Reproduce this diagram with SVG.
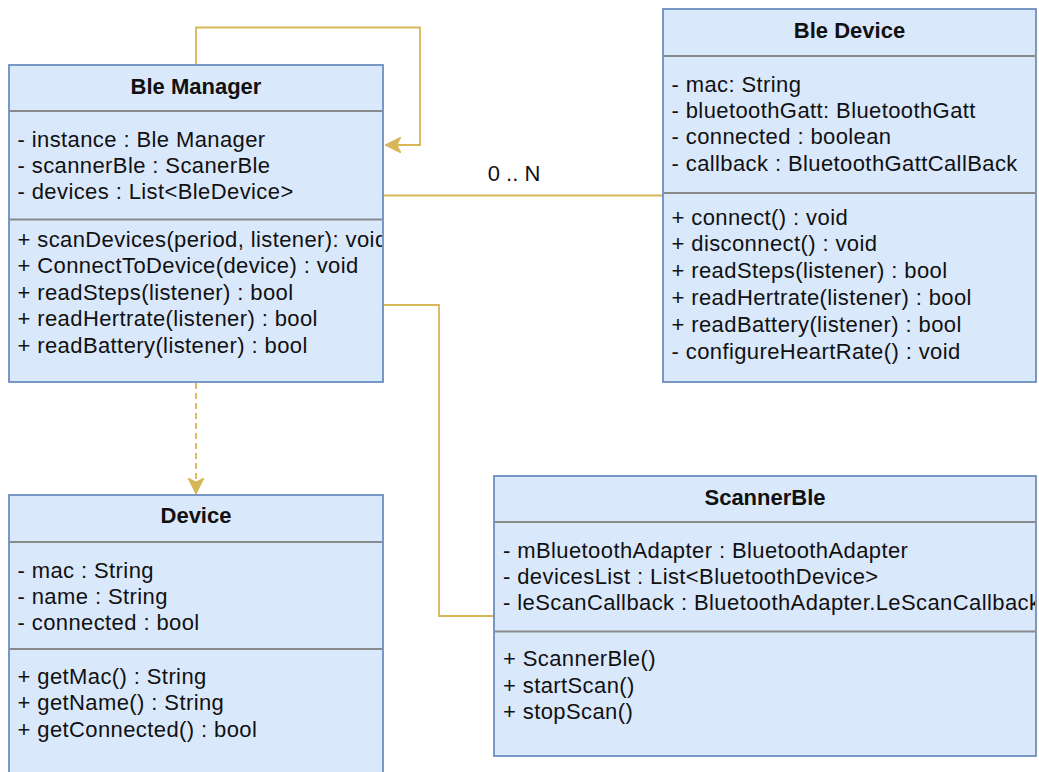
<svg xmlns="http://www.w3.org/2000/svg" width="1039" height="772" viewBox="0 0 1039 772">
  <style>
    .box { fill: #dae8fc; stroke: #6c8ebf; stroke-width: 1.8; }
    .sep { stroke: #8a8a8a; stroke-width: 1.8; fill: none; }
    .title { font-family: "Liberation Sans", Arial, sans-serif; font-size: 22px; font-weight: bold; fill: #111; text-anchor: middle; }
    .member { font-family: "Liberation Sans", Arial, sans-serif; font-size: 22px; letter-spacing: 0.4px; fill: #111; }
    .edge { fill: none; stroke: #d6b656; stroke-width: 1.8; }
    .dashed { stroke-dasharray: 6 4; }
    .label { font-family: "Liberation Sans", Arial, sans-serif; font-size: 22px; fill: #111; text-anchor: middle; }
  </style>
  <defs>
    <marker id="classic" viewBox="0 0 16 16" refX="15" refY="8" markerWidth="16" markerHeight="16" markerUnits="userSpaceOnUse" orient="auto">
      <path d="M0,0 L16,8 L0,16 L4,8 Z" fill="#d6b656" stroke="#d6b656" stroke-width="1"/>
    </marker>
    <clipPath id="clipManager"><rect x="10" y="66" width="372" height="316"/></clipPath>
    <clipPath id="clipScanner"><rect x="495" y="477" width="540" height="278"/></clipPath>
  </defs>

  <!-- connectors -->
  <g id="connectors">
    <path class="edge" d="M196,65 V27.5 H420 V145 H386" marker-end="url(#classic)"/>
    <path class="edge" d="M383,195.5 H663"/>
    <text class="label" x="514" y="181">0 .. N</text>
    <path class="edge" d="M383,305 H439 V616 H494"/>
    <path class="edge dashed" d="M196,383 V493" marker-end="url(#classic)"/>
  </g>

  <!-- Ble Manager -->
  <g id="ble-manager">
    <rect class="box" x="9" y="65" width="374" height="317"/>
    <line class="sep" x1="10" y1="111" x2="382" y2="111"/>
    <line class="sep" x1="10" y1="219.5" x2="382" y2="219.5"/>
    <text class="title" x="196" y="94">Ble Manager</text>
    <g clip-path="url(#clipManager)">
      <text class="member" x="17.5" y="147">- instance : Ble Manager</text>
      <text class="member" x="17.5" y="173">- scannerBle : ScanerBle</text>
      <text class="member" x="17.5" y="199">- devices : List&lt;BleDevice&gt;</text>
      <text class="member" x="17.5" y="246.5">+ scanDevices(period, listener): void</text>
      <text class="member" x="17.5" y="273">+ ConnectToDevice(device) : void</text>
      <text class="member" x="17.5" y="299.5">+ readSteps(listener) : bool</text>
      <text class="member" x="17.5" y="326">+ readHertrate(listener) : bool</text>
      <text class="member" x="17.5" y="352.5">+ readBattery(listener) : bool</text>
    </g>
  </g>

  <!-- Ble Device -->
  <g id="ble-device">
    <rect class="box" x="663" y="9" width="373" height="373"/>
    <line class="sep" x1="664" y1="56" x2="1035" y2="56"/>
    <line class="sep" x1="664" y1="193" x2="1035" y2="193"/>
    <text class="title" x="849.5" y="37.5">Ble Device</text>
    <text class="member" x="671.5" y="91.5">- mac: String</text>
    <text class="member" x="671.5" y="117.5">- bluetoothGatt: BluetoothGatt</text>
    <text class="member" x="671.5" y="144">- connected : boolean</text>
    <text class="member" x="671.5" y="170.5">- callback : BluetoothGattCallBack</text>
    <text class="member" x="671.5" y="224.5">+ connect() : void</text>
    <text class="member" x="671.5" y="251">+ disconnect() : void</text>
    <text class="member" x="671.5" y="278">+ readSteps(listener) : bool</text>
    <text class="member" x="671.5" y="305">+ readHertrate(listener) : bool</text>
    <text class="member" x="671.5" y="332">+ readBattery(listener) : bool</text>
    <text class="member" x="671.5" y="358.5">- configureHeartRate() : void</text>
  </g>

  <!-- Device -->
  <g id="device">
    <rect class="box" x="9" y="495" width="374" height="300"/>
    <line class="sep" x1="10" y1="542" x2="382" y2="542"/>
    <line class="sep" x1="10" y1="649" x2="382" y2="649"/>
    <text class="title" x="196" y="523">Device</text>
    <text class="member" x="17.5" y="577.5">- mac : String</text>
    <text class="member" x="17.5" y="603.5">- name : String</text>
    <text class="member" x="17.5" y="629.5">- connected : bool</text>
    <text class="member" x="17.5" y="684">+ getMac() : String</text>
    <text class="member" x="17.5" y="710">+ getName() : String</text>
    <text class="member" x="17.5" y="737">+ getConnected() : bool</text>
  </g>

  <!-- ScannerBle -->
  <g id="scanner-ble">
    <rect class="box" x="494" y="476" width="542" height="280"/>
    <line class="sep" x1="495" y1="522" x2="1035" y2="522"/>
    <line class="sep" x1="495" y1="631.5" x2="1035" y2="631.5"/>
    <text class="title" x="765" y="504.5">ScannerBle</text>
    <g clip-path="url(#clipScanner)">
      <text class="member" x="503" y="558">- mBluetoothAdapter : BluetoothAdapter</text>
      <text class="member" x="503" y="584">- devicesList : List&lt;BluetoothDevice&gt;</text>
      <text class="member" x="503" y="610">- leScanCallback : BluetoothAdapter.LeScanCallback</text>
      <text class="member" x="503" y="666">+ ScannerBle()</text>
      <text class="member" x="503" y="692.5">+ startScan()</text>
      <text class="member" x="503" y="719">+ stopScan()</text>
    </g>
  </g>
</svg>
